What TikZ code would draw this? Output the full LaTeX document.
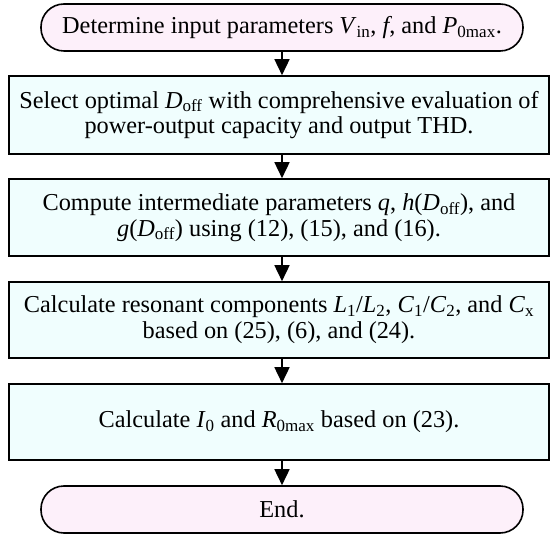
\documentclass[tikz,border=0pt]{standalone}
\usepackage{fontspec}
\setmainfont{Liberation Serif}
\usetikzlibrary{arrows.meta}
\definecolor{pillfill}{HTML}{FDF0FA}
\definecolor{boxfill}{HTML}{F0FEFE}
\newcommand{\vsub}[2]{\textit{#1}\textsubscript{#2}}
\tikzset{
  term/.style={draw, line width=1.6pt, fill=pillfill, rounded corners=23pt,
    minimum width=482pt, minimum height=47pt, inner sep=0pt, align=center,
    font=\fontsize{24.3}{25.8}\selectfont},
  proc/.style={draw, line width=1.6pt, fill=boxfill,
    minimum width=540pt, inner sep=0pt, align=center,
    font=\fontsize{24.3}{25.8}\selectfont},
  flow/.style={line width=1.6pt, -{Triangle[width=15pt,length=16pt]}}
}
\begin{document}
\begin{tikzpicture}[x=1pt,y=1pt]
\useasboundingbox (0,0) rectangle (551,-534);
\node[term] (start) at (282,-27.5) {Determine input parameters \vsub{V}{in}, \textit{f}, and \vsub{P}{0max}.};
\node[proc, minimum height=78pt] (b1) at (279,-115) {Select optimal \vsub{D}{off} with comprehensive evaluation of\\ power-output capacity and output THD.};
\node[proc, minimum height=77pt] (b2) at (279,-217.5) {Compute intermediate parameters \textit{q}, \textit{h}(\vsub{D}{off}), and\\ \textit{g}(\vsub{D}{off}) using (12), (15), and (16).};
\node[proc, minimum height=76pt] (b3) at (279,-320) {Calculate resonant components \vsub{L}{1}/\vsub{L}{2}, \vsub{C}{1}/\vsub{C}{2}, and \vsub{C}{x}\\ based on (25), (6), and (24).};
\node[proc, minimum height=76pt] (b4) at (279,-422) {Calculate \vsub{I}{0} and \vsub{R}{0max} based on (23).};
\node[term] (end) at (282,-509.5) {End.};
\draw[flow] (start.south) -- (start.south |- b1.north);
\draw[flow] (start.south |- b1.south) -- (start.south |- b2.north);
\draw[flow] (start.south |- b2.south) -- (start.south |- b3.north);
\draw[flow] (start.south |- b3.south) -- (start.south |- b4.north);
\draw[flow] (start.south |- b4.south) -- (end.north);
\end{tikzpicture}
\end{document}
